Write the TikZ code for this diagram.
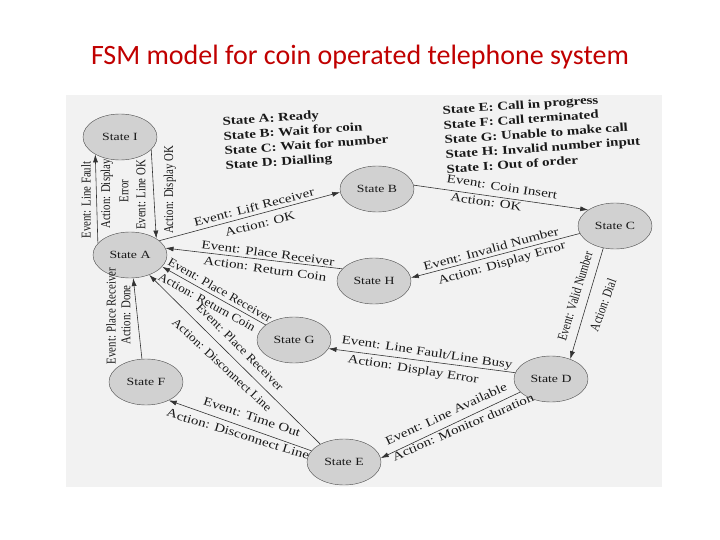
\documentclass[tikz,border=0pt]{standalone}
\usepackage{fontspec}
\setmainfont{Liberation Serif}
\newfontfamily\titlefont{Carlito}
\newfontfamily\lblfont[FakeStretch=1.25]{Liberation Serif}
\newfontfamily\dlblfont[FakeStretch=1.1]{Liberation Serif}
\newfontfamily\vlblfont[FakeStretch=0.8]{Liberation Serif}
\usetikzlibrary{arrows.meta,shapes.geometric}
\definecolor{ttlred}{RGB}{192,0,0}

\begin{document}
\begin{tikzpicture}[x=1pt, y=1pt,
  stt/.style={ellipse, draw=black!70, fill=black!18, minimum width=74pt, minimum height=46pt,
    inner sep=0pt, text=black!90, font=\lblfont\fontsize{11}{11}\selectfont},
  arr/.style={-{Latex[length=8pt,width=5pt]}, draw=black!80, line width=0.6pt},
  lbl/.style={inner sep=0pt, text=black!90, font=\lblfont\fontsize{12}{12}\selectfont},
  dlbl/.style={inner sep=0pt, text=black!90, font=\dlblfont\fontsize{12}{12}\selectfont},
  vlbl/.style={inner sep=0pt, text=black!90, font=\vlblfont\fontsize{13.5}{13.5}\selectfont},
  lgnd/.style={inner sep=0pt, anchor=north west, rotate=4, align=left, text=black!90,
    font=\lblfont\bfseries\fontsize{12}{14.7}\selectfont},
]
\useasboundingbox (0,0) rectangle (720,-540);
\fill [black!5] (66,-95) rectangle (662,-487);

\node [font=\titlefont\fontsize{28}{28}\selectfont, text=ttlred] (title) at (360,-57) {FSM model for coin operated telephone system};

\node [lgnd] (lgA) at (222,-117) {State A: Ready\\State B: Wait for coin\\State C: Wait for number\\State D: Dialling};
\node [lgnd] (lgE) at (442,-106) {State E: Call in progress\\State F: Call terminated\\State G: Unable to make call\\State H: Invalid number input\\State I: Out of order};

\node [stt] (sI) at (120,-137) {State I};
\node [stt] (sA) at (130,-255) {State A};
\node [stt] (sB) at (377,-189) {State B};
\node [stt] (sC) at (615,-226) {State C};
\node [stt] (sH) at (374,-281) {State H};
\node [stt] (sG) at (294,-340) {State G};
\node [stt] (sD) at (551,-379) {State D};
\node [stt] (sF) at (146,-382) {State F};
\node [stt] (sE) at (344,-462) {State E};

\draw [arr] (sA.160) -- (sI.215);
\draw [arr] (sI.-22) -- (sA.32);
\draw [arr] (sA.26) -- (sB.185);
\draw [arr] (sB.6) -- (sC.149);
\draw [arr] (sC.192) -- (sH.5);
\draw [arr] (sH.159) -- (sA.11);
\draw [arr] (sC.242) -- (sD.46);
\draw [arr] (sD.170) -- (sG.346);
\draw [arr] (sD.203) -- (sE.6);
\draw [arr] (sG.152) -- (sA.340);
\draw [arr] (sE.143) -- (sA.314);
\draw [arr] (sF.100) -- (sA.278);
\draw [arr] (sE.161) -- (sF.321);

\node [vlbl, rotate=90] (lAI1) at (86,-200) {Event: Line Fault};
\node [vlbl, rotate=90] (lAI2) at (107,-194) {Action: Display};
\node [vlbl, rotate=90] (lAI3) at (124,-191) {Error};
\node [vlbl, rotate=90] (lIA1) at (141,-195) {Event: Line OK};
\node [vlbl, rotate=90] (lIA2) at (170,-190) {Action: Display OK};

\node [lbl, rotate=14.3] (lAB1) at (254,-207) {Event: Lift Receiver};
\node [lbl, rotate=14] (lAB2) at (260,-224) {Action: OK};
\node [lbl, rotate=-8.7] (lBC1) at (502,-187) {Event: Coin Insert};
\node [lbl, rotate=-8.7] (lBC2) at (486,-202) {Action: OK};
\node [lbl, rotate=15] (lCH1) at (491,-249) {Event: Invalid Number};
\node [lbl, rotate=16] (lCH2) at (502,-264) {Action: Display Error};
\node [lbl, rotate=-7.7] (lHA1) at (268,-253) {Event: Place Receiver};
\node [lbl, rotate=-7.8] (lHA2) at (265,-269) {Action: Return Coin};
\node [vlbl, rotate=73] (lCD1) at (575,-296) {Event: Valid Number};
\node [vlbl, rotate=70] (lCD2) at (603,-305) {Action: Dial};
\node [lbl, rotate=-8.5] (lDG1) at (427,-353) {Event: Line Fault/Line Busy};
\node [lbl, rotate=-9] (lDG2) at (413,-370) {Action: Display Error};
\node [lbl, rotate=25] (lDE1) at (446,-414) {Event: Line Available};
\node [lbl, rotate=23.5] (lDE2) at (463,-427) {Action: Monitor duration};
\node [dlbl, rotate=-30] (lGA1) at (220,-290) {Event: Place Receiver};
\node [dlbl, rotate=-29] (lGA2) at (207,-302) {Action: Return Coin};
\node [dlbl, rotate=-45] (lEA1) at (240,-347) {Event: Place Receiver};
\node [dlbl, rotate=-43] (lEA2) at (222,-365) {Action: Disconnect Line};
\node [lbl, rotate=-18.5] (lEF1) at (252,-417) {Event: Time Out};
\node [lbl, rotate=-17] (lEF2) at (238,-434) {Action: Disconnect Line};
\node [vlbl, rotate=90] (lFA1) at (111,-316) {Event: Place Receiver};
\node [vlbl, rotate=90] (lFA2) at (126,-315) {Action: Done};

\end{tikzpicture}
\end{document}
